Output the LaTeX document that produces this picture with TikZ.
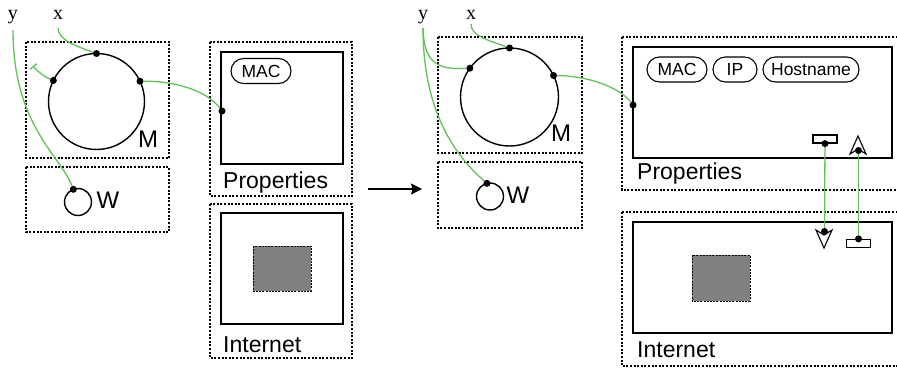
\documentclass[tikz,border=0pt]{standalone}
\usepackage{fontspec}
\setmainfont{Liberation Serif}
\newfontfamily\labelfont{Liberation Sans}
\usetikzlibrary{arrows.meta,calc}
\definecolor{wire}{RGB}{95,195,85}
\definecolor{fillgray}{RGB}{128,128,128}
\tikzset{
  frame/.style={draw=black, line width=1.1pt, dash pattern=on 2pt off 1.6pt},
  panel/.style={draw=black, line width=1.2pt},
  ring/.style={draw=black, line width=1.4pt},
  wiring/.style={draw=wire, line width=1.3pt},
  port/.style={fill=black, circle, inner sep=0pt, minimum size=7pt},
  pill/.style={draw=black, line width=1.1pt, rounded corners=12.5pt, minimum height=25pt,
    inner sep=0pt, font=\labelfont\fontsize{17.5}{19}\selectfont},
  caption/.style={inner sep=0pt, anchor=base west, font=\labelfont\fontsize{23}{25}\selectfont},
  bigletter/.style={inner sep=0pt, anchor=base, font=\labelfont\fontsize{24}{26}\selectfont},
  varname/.style={inner sep=0pt, anchor=base, font=\fontsize{20}{22}\selectfont},
  slot/.style={draw=black, line width=1.2pt, fill=white, inner sep=0pt, minimum width=24pt, minimum height=8pt},
}
\begin{document}
\begin{tikzpicture}[x=1pt, y=-1pt]
\useasboundingbox (0,0) rectangle (897,369);

% ---------------- left configuration ----------------
% (y axis points down, so polar angles are measured clockwise)
\draw[frame] (26,42) rectangle (169,158);
\draw[frame] (26,167) rectangle (169,232);
\draw[ring] (96.5,101.5) circle (48);
\node[bigletter] (mL) at (148,147) {M};
\draw[ring] (78,202) circle (13.5);
\node[bigletter] (wL) at (108,208.5) {W};

\node[varname] (yL) at (13,20) {y};
\node[varname] (xL) at (58,20) {x};

\node[port] (mtopL) at ($(96.5,101.5)+(-90:48)$) {};
\node[port] (mleftL) at ($(96.5,101.5)+(-154:48)$) {};
\node[port] (mrightL) at ($(96.5,101.5)+(-25:48)$) {};
\node[port] (wtopL) at ($(78,202)+(-110:13.5)$) {};
\coordinate (stubL) at (33,66);

\draw[frame] (210,42) rectangle (352,196);
\draw[panel] (221,52) rectangle (343,164);
\node[pill, minimum width=60pt] (macL) at (261,71) {MAC};
\node[caption] (propL) at (223,188) {Properties};
\node[port] (propinL) at (222,111) {};

\draw[frame] (210,204) rectangle (352,358);
\draw[panel] (221,213) rectangle (343,324);
\draw[fill=fillgray, draw=black, line width=1pt, dash pattern=on 2pt off 1.2pt] (253,246) rectangle (311,291);
\node[caption] (inetL) at (223,352) {Internet};

\coordinate (xLs) at (58,28);
\coordinate (yLs) at (13,30);
\draw[wiring] (xLs) .. controls (58,40) and (76,46) .. (mtopL);
\draw[wiring] (yLs) .. controls (13,125) and (60,155) .. (wtopL);
\draw[wiring, -{Bar[width=9pt, line width=1.3pt]}] (mleftL) .. controls (45,77) and (38,72) .. (stubL);
\draw[wiring] (mrightL) .. controls (178,81) and (208,92) .. (propinL);

% ---------------- transition arrow ----------------
\coordinate (arrfrom) at (368,189);
\coordinate (arrto) at (422,189);
\draw[line width=1.3pt, -{Stealth[length=11pt, width=11pt, inset=1.5pt]}] (arrfrom) -- (arrto);

% ---------------- right configuration ----------------
\draw[frame] (438,37) rectangle (582,153);
\draw[frame] (438,162) rectangle (582,228);
\draw[ring] (509.5,97) circle (49);
\node[bigletter] (mR) at (561,141) {M};
\draw[ring] (490,196.5) circle (13.5);
\node[bigletter] (wR) at (518,203) {W};

\node[varname] (yR) at (423,20) {y};
\node[varname] (xR) at (471,20) {x};

\node[port] (mtopR) at ($(509.5,97)+(-90:49)$) {};
\node[port] (mleftR) at ($(509.5,97)+(-144:49)$) {};
\node[port] (mrightR) at ($(509.5,97)+(-26:49)$) {};
\node[port] (wtopR) at ($(490,196.5)+(-103:13.5)$) {};

\draw[frame] (622,37) -- (900,37) (622,37) -- (622,190) -- (900,190);
\draw[panel] (633,47) rectangle (892,158);
\node[pill, minimum width=60pt] (macR) at (677,69.5) {MAC};
\node[pill, minimum width=44pt] (ipR) at (735,69.5) {IP};
\node[pill, minimum width=96pt] (hostR) at (811,69.5) {Hostname};
\node[caption] (propR) at (637,179) {Properties};
\node[port] (propinR) at (633,105) {};

\draw[frame] (622,212) -- (900,212) (622,212) -- (622,366) -- (900,366);
\draw[panel] (633,222) rectangle (892,333);
\draw[fill=fillgray, draw=black, line width=1pt, dash pattern=on 2pt off 1.2pt] (692,255) rectangle (750,301);
\node[caption] (inetR) at (637,357) {Internet};

% output slot in Properties, input arrowhead in Internet
\node[slot] (outP) at (825,139) {};
\coordinate (outPdot) at (outP.south);
\draw[line width=1.1pt, fill=white] (824,248) -- (816,230) -- (824,235) -- (832,230) -- cycle;
\coordinate (inI) at (824.5,231.5);

% output slot in Internet, input arrowhead in Properties
\node[slot] (outI) at (858.5,243.5) {};
\coordinate (outIdot) at (outI.north);
\draw[line width=1.1pt, fill=white] (858,136) -- (850,154) -- (858,149) -- (866,154) -- cycle;
\coordinate (inP) at (858.5,150.5);

\coordinate (yRs) at (423,28);
\coordinate (xRs) at (471,24);
\draw[wiring] (yRs) .. controls (424,62) and (436,70) .. (mleftR);
\draw[wiring] (yRs) .. controls (423,115) and (458,158) .. (wtopR);
\draw[wiring] (xRs) .. controls (471,36) and (488,40) .. (mtopR);
\draw[wiring] (mrightR) .. controls (590,76) and (620,88) .. (propinR);
\draw[wiring] (outPdot) -- (inI);
\draw[wiring] (outIdot) -- (inP);
\foreach \p in {outPdot, inI, outIdot, inP} \node[port] at (\p) {};
\end{tikzpicture}
\end{document}
